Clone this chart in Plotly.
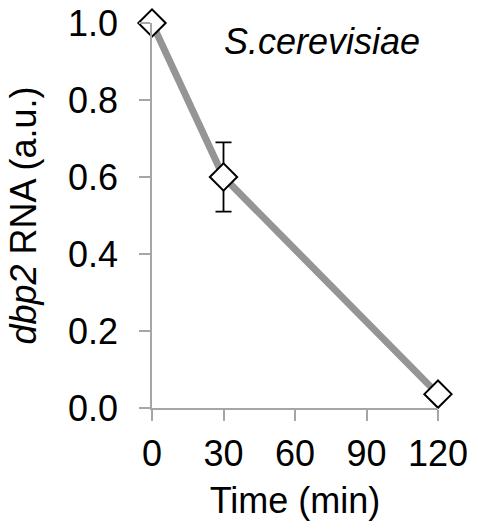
import plotly.graph_objects as go

time_min = [0, 30, 120]
rna = [1.0, 0.60, 0.036]
rna_err = [0, 0.09, 0]
x_ticks = [0, 30, 60, 90, 120]
y_ticks = [0.0, 0.2, 0.4, 0.6, 0.8, 1.0]
y_tick_text = ["0.0", "0.2", "0.4", "0.6", "0.8", "1.0"]

FONT = "Liberation Sans, Arial, sans-serif"
AX = "#a6a6a6"
FS = 36

fig = go.Figure()
fig.add_trace(go.Scatter(
    x=time_min, y=rna, mode="lines+markers",
    line=dict(color="#959595", width=7),
    marker=dict(symbol="diamond", size=21, color="white",
                line=dict(color="black", width=2)),
    error_y=dict(type="data", array=rna_err, visible=True,
                 color="black", thickness=1.8, width=8),
    cliponaxis=False, showlegend=False,
))

fig.update_layout(
    width=478, height=531,
    margin=dict(l=152, r=40, t=23, b=123, autoexpand=False),
    plot_bgcolor="white", paper_bgcolor="white",
    font=dict(family=FONT, size=FS, color="black"),
    xaxis=dict(range=[0, 120], tickvals=x_ticks, ticks="outside",
               ticklen=11, tickwidth=1.5, tickcolor=AX,
               showline=True, linecolor=AX, linewidth=1.5,
               showgrid=False, zeroline=False, ticklabelstandoff=2,
               tickfont=dict(size=FS, family=FONT), automargin=False,
               title=dict(text="Time (min)", standoff=15,
                          font=dict(size=FS, family=FONT))),
    yaxis=dict(range=[0, 1], tickvals=y_ticks, ticktext=y_tick_text,
               ticks="outside", ticklen=11, tickwidth=1.5, tickcolor=AX,
               showline=True, linecolor=AX, linewidth=1.5,
               showgrid=False, zeroline=False, ticklabelstandoff=14,
               tickfont=dict(size=FS, family=FONT), automargin=False,
               title=dict(text="<i>dbp2</i> RNA (a.u.)", standoff=20,
                          font=dict(size=FS, family=FONT))),
    annotations=[dict(text="<i>S.cerevisiae</i>", xref="paper", yref="paper",
                      x=0.594, y=0.951, xanchor="center", yanchor="middle",
                      showarrow=False, font=dict(size=FS, family=FONT))],
)

fig.write_html("out.html")
